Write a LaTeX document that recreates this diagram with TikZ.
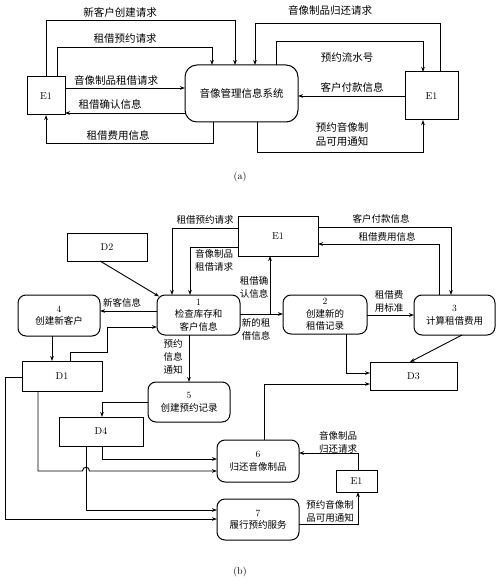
\documentclass[tikz,border=0pt]{standalone}
\usepackage{fontspec}
\newfontfamily\cjk{Noto Sans CJK SC}
\usetikzlibrary{arrows.meta,calc}
\begin{document}
\begin{tikzpicture}[x=1pt,y=-1pt,
  every node/.style={inner sep=0pt,outer sep=0pt},
  ent/.style={draw,line width=1pt,font=\fontsize{10}{12}\selectfont},
  store/.style={draw,line width=1pt,font=\fontsize{10}{12}\selectfont},
  proc/.style={draw,line width=1pt,rounded corners=8pt,align=center,font=\cjk\fontsize{9.5}{12.5}\selectfont},
  lbla/.style={font=\cjk\fontsize{10.5}{14}\selectfont,align=center},
  lblb/.style={font=\cjk\fontsize{9.5}{13}\selectfont,align=center},
  arr/.style={line width=0.9pt,-{Stealth[length=5pt,width=3.6pt]}},
  ln/.style={line width=0.9pt}]
\useasboundingbox (0,0) rectangle (499,580);
% ---------------- (a) ----------------
\node[ent,minimum width=38pt,minimum height=38pt] (E1L) at (46,96) {E1};
\node[proc,rounded corners=12pt,minimum width=113pt,minimum height=57pt,font=\cjk\fontsize{10.5}{13}\selectfont] (SYS) at (241.5,93.5) {音像管理信息系统};
\node[ent,minimum width=53pt,minimum height=48pt] (E1R) at (431.5,96) {E1};

\draw[arr] (46,0 |- E1L.north) -- (46,20) -- (235,20) -- (235,0 |- SYS.north);
\node[lbla] (la1) at (120,12) {新客户创建请求};
\draw[arr] (57,0 |- E1L.north) -- (57,47) -- (212,47) -- (212,0 |- SYS.north);
\node[lbla] (la2) at (125,39) {租借预约请求};
\draw[arr] (E1L.east |- 0,88) -- (SYS.west |- 0,88);
\node[lbla] (la3) at (116,80) {音像制品租借请求};
\draw[arr] (SYS.west |- 0,113) -- (E1L.east |- 0,113);
\node[lbla] (la4) at (110,104) {租借确认信息};
\draw[arr] (213,0 |- SYS.south) -- (213,143) -- (46,143) -- (46,0 |- E1L.south);
\node[lbla] (la5) at (118,135) {租借费用信息};
\draw[arr] (440,0 |- E1R.north) -- (440,23) -- (255,23) -- (255,0 |- SYS.north);
\node[lbla] (la6) at (330,10) {音像制品归还请求};
\draw[arr] (276,0 |- SYS.north) -- (276,41) -- (423,41) -- (423,0 |- E1R.north);
\node[lbla] (la7) at (347,58) {预约流水号};
\draw[arr] (E1R.west |- 0,96) -- (SYS.east |- 0,96);
\node[lbla] (la8) at (352,87) {客户付款信息};
\draw[arr] (257,0 |- SYS.south) -- (257,152) -- (423,152) -- (423,0 |- E1R.south);
\node[lbla] (la9) at (342,134.5) {预约音像制\\品可用通知};
\node[font=\fontsize{10}{12}\selectfont] (capa) at (240,177) {(a)};

% ---------------- (b) ----------------
\node[ent,minimum width=80pt,minimum height=40pt] (E1T) at (278,236) {E1};
\node[store,minimum width=80pt,minimum height=28pt] (D2) at (107,247) {D2};
\node[proc,minimum width=83pt,minimum height=40pt] (P1) at (198.5,315) {\rmfamily 1\\检查库存和\\客户信息};
\node[proc,minimum width=84pt,minimum height=39pt] (P2) at (325,314.5) {\rmfamily 2\\创建新的\\租借记录};
\node[proc,minimum width=81pt,minimum height=40pt] (P3) at (454.5,315) {\rmfamily 3\\计算租借费用};
\node[proc,minimum width=82pt,minimum height=41pt] (P4) at (59,315.5) {\rmfamily 4\\创建新客户};
\node[store,minimum width=80pt,minimum height=30pt] (D1) at (62,376) {D1};
\node[proc,minimum width=82pt,minimum height=40pt] (P5) at (189,402) {\rmfamily 5\\创建预约记录};
\node[store,minimum width=87pt,minimum height=28pt] (D3) at (413.5,376) {D3};
\node[store,minimum width=84pt,minimum height=29pt] (D4) at (101,431.5) {D4};
\node[proc,minimum width=82pt,minimum height=42pt] (P6) at (258,461) {\rmfamily 6\\归还音像制品};
\node[ent,minimum width=41pt,minimum height=22pt] (E1B) at (356.5,481) {E1};
\node[proc,minimum width=82pt,minimum height=41pt] (P7) at (258,519.5) {\rmfamily 7\\履行预约服务};

% E1 <-> P1
\draw[arr] (E1T.west |- 0,228) -- (172,228) -- (172,0 |- P1.north);
\node[lblb] (lb1) at (205,220) {租借预约请求};
\draw[arr] (E1T.west |- 0,247) -- (190,247) -- (190,0 |- P1.north);
\node[lblb] (lb2) at (214,260) {音像制品\\租借请求};
% P1 -> P2, P1 -> E1
\draw[arr] (P1.east |- 0,314) -- (P2.west |- 0,314);
\coordinate (jA) at (270,314);
\draw[arr] (jA) -- (jA |- E1T.south);
\node[lblb] (lb3) at (254,287) {租借确\\认信息};
\node[lblb] (lb4) at (256,329) {新的租\\借信息};
% E1 <-> P3
\draw[arr] (E1T.east |- 0,227) -- (451,227) -- (451,0 |- P3.north);
\node[lblb] (lb5) at (381,219) {客户付款信息};
\draw[arr] (439,0 |- P3.north) -- (439,244) -- (E1T.east |- 0,244);
\node[lblb] (lb6) at (387,237) {租借费用信息};
% P2 -> P3
\draw[arr] (P2.east |- 0,315) -- (P3.west |- 0,315);
\node[lblb] (lb7) at (389,301) {租借费\\用标准};
% D2 -> P1
\draw[arr,shorten >=1pt] (100,0 |- D2.south) -- ($(P1.north west)+(3,2)$);
% P1 -> P4
\draw[arr] (P1.west |- 0,311) -- (P4.east |- 0,311);
\node[lblb] (lb8) at (122,303) {新客信息};
% P4 -> D1
\draw[arr] (52,0 |- P4.south) -- (52,0 |- D1.north);
% D1 -> P1
\draw[arr] (70,0 |- D1.north) -- (70,352) -- (107,352) -- (107,327) -- (P1.west |- 0,327);
% P1 -> P5
\draw[arr] (189,0 |- P1.south) -- (189,0 |- P5.north);
\node[lblb] (lb9) at (173,357) {预约\\信息\\通知};
% P5 -> D4
\draw[arr] (P5.west |- 0,402) -- (102,402) -- (102,0 |- D4.north);
% P2 -> D3
\draw[arr] (346,0 |- P2.south) -- (346,373) -- (D3.west |- 0,373);
% P3 -> D3
\draw[arr] (462,0 |- P3.south) -- (410,0 |- D3.north);
% P6 -> D3
\draw[arr] (264,0 |- P6.north) -- (264,384) -- (D3.west |- 0,384);
% D4 -> P6
\draw[arr] (102,0 |- D4.south) -- (102,459) -- (P6.west |- 0,459);
% D1 -> P6 (with hop)
\draw[arr] (38,0 |- D1.south) -- (38,471) -- (82.5,471) .. controls (82.5,466) and (89.5,466) .. (89.5,471) -- (P6.west |- 0,471);
% D4 -> P7
\draw[arr] (86,0 |- D4.south) -- (86,510) -- (P7.west |- 0,510);
% D1 -> P7
\draw[arr] (D1.west |- 0,377) -- (5,377) -- (5,519) -- (P7.west |- 0,519);
% E1 -> P6
\draw[arr] (358,0 |- E1B.north) -- (358,453) -- (P6.east |- 0,453);
\node[lblb] (lb10) at (338,442) {音像制品\\归还请求};
% P7 -> E1
\draw[arr] (P7.east |- 0,524) -- (358,524) -- (358,0 |- E1B.south);
\node[lblb] (lb11) at (330,511) {预约音像制\\品可用通知};
\node[font=\fontsize{10}{12}\selectfont] (capb) at (240,572) {(b)};
\end{tikzpicture}
\end{document}
